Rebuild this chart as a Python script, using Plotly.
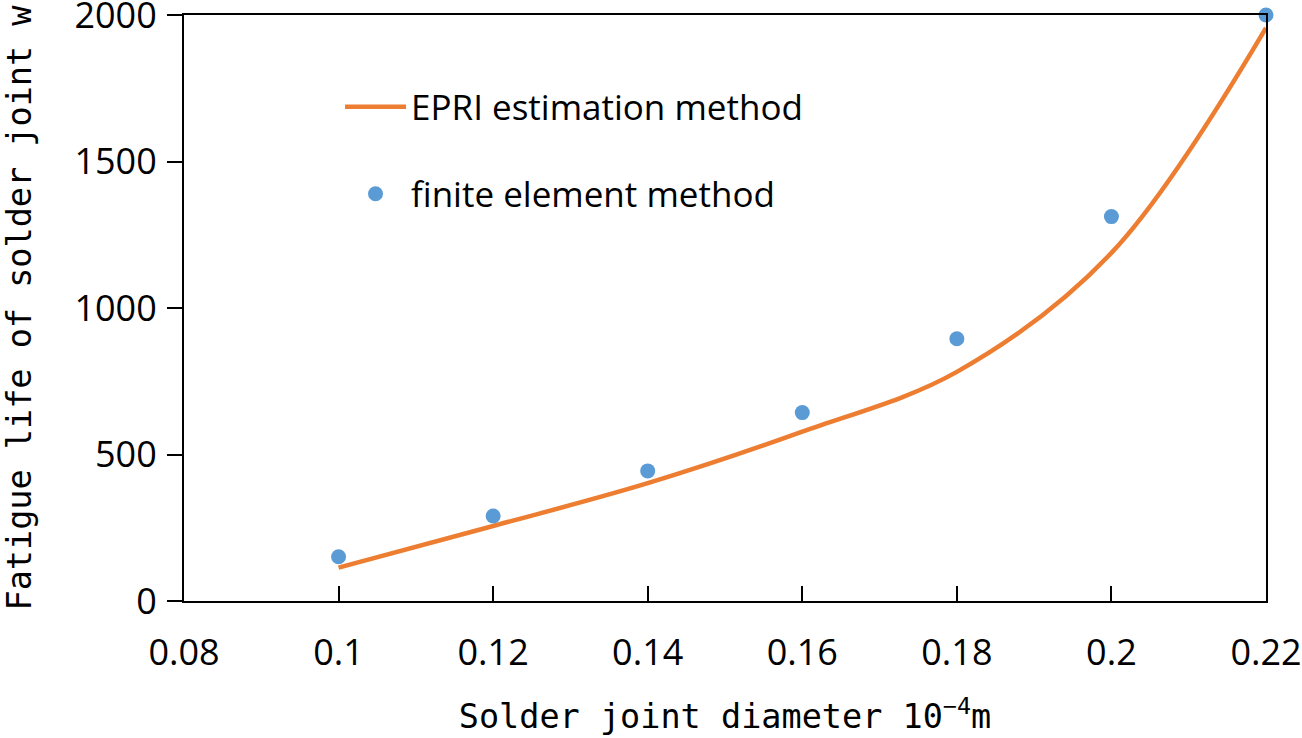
import plotly.graph_objects as go

# solder joint diameter (10^-4 m)
diameter = [0.10, 0.12, 0.14, 0.16, 0.18, 0.20, 0.22]
# fatigue life, EPRI estimation (smoothed curve)
epri_life = [114, 256, 402, 578, 782, 1188, 1956]
# fatigue life, finite element results
fem_life = [151, 290, 444, 643, 895, 1312, 2000]

x_ticks = [0.08, 0.10, 0.12, 0.14, 0.16, 0.18, 0.20, 0.22]
x_labels = ["0.08", "0.1", "0.12", "0.14", "0.16", "0.18", "0.2", "0.22"]
y_ticks = [0, 500, 1000, 1500, 2000]

tick_font = dict(family="Open Sans", size=36, color="black")
title_font = dict(family="DejaVu Sans Mono", size=33.5, color="black")

fig = go.Figure()

# EPRI curve
fig.add_trace(go.Scatter(
    x=diameter,
    y=epri_life,
    mode="lines",
    line=dict(color="#ED7D31", width=4.5, shape="spline", smoothing=1.0),
    name="EPRI estimation method",
    legend="legend",
    cliponaxis=False
))

# FEM points
fig.add_trace(go.Scatter(
    x=diameter,
    y=fem_life,
    mode="markers",
    marker=dict(color="#5B9BD5", size=15),
    name="finite element method",
    legend="legend2",
    cliponaxis=False
))

legend_style = dict(
    font=dict(family="Open Sans", size=35, color="black"),
    bgcolor="rgba(0,0,0,0)",
    xanchor="left",
    yanchor="middle",
    itemwidth=61
)

fig.update_layout(
    width=1302,
    height=738,
    showlegend=True,
    plot_bgcolor="white",
    paper_bgcolor="white",
    margin=dict(l=184, r=36, t=15, b=137),
    legend=dict(x=0.1442, y=0.843, **legend_style),
    legend2=dict(x=0.1442, y=0.6945, **legend_style),
    xaxis=dict(
        range=[0.08, 0.22],
        tickvals=x_ticks,
        ticktext=x_labels,
        ticks="inside",
        ticklen=15,
        tickwidth=2,
        tickcolor="black",
        showline=True,
        linecolor="black",
        linewidth=2,
        mirror=True,
        showgrid=False,
        zeroline=False,
        automargin=False,
        ticklabeloverflow="allow",
        tickfont=tick_font,
        ticklabelstandoff=19,
        title=dict(text="Solder joint diameter 10<sup>−4</sup>m", font=title_font, standoff=29)
    ),
    yaxis=dict(
        range=[0, 2000],
        tickvals=y_ticks,
        ticks="outside",
        ticklen=15,
        tickwidth=2,
        tickcolor="black",
        showline=True,
        linecolor="black",
        linewidth=2,
        mirror=True,
        showgrid=False,
        zeroline=False,
        automargin=False,
        ticklabeloverflow="allow",
        tickfont=tick_font,
        ticklabelstandoff=3,
        title=dict(text="Fatigue life of solder joint w", font=title_font, standoff=34)
    )
)

# drop the default page margin so the figure sits at the window corner
fig.write_html(
    "out.html",
    config={"displayModeBar": False},
    post_script="document.body.style.margin = '0px';"
)
